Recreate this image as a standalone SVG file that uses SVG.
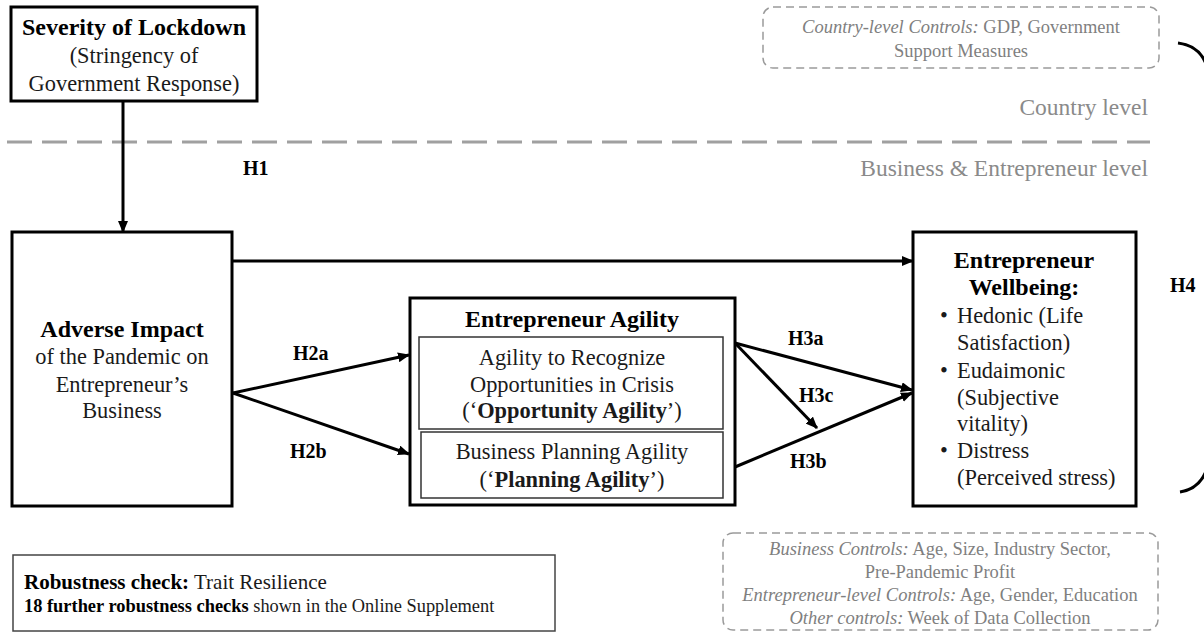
<svg xmlns="http://www.w3.org/2000/svg" width="1204" height="633" viewBox="0 0 1204 633">
<defs>
<style>
text{font-family:"Liberation Serif","Times New Roman",serif;fill:#1a1a1a}
.t{font-size:24px;font-weight:bold;text-anchor:middle;fill:#000}
.r{font-size:22.4px;text-anchor:middle}
.rl{font-size:22.4px}
.h{font-size:20px;font-weight:bold;fill:#000}
.lvl{font-size:23.5px;fill:#8a8a8a;text-anchor:end}
.ctl{font-size:18.5px;fill:#7f7f7f;text-anchor:middle}
.box{fill:#fff;stroke:#000;stroke-width:3}
.inner{fill:none;stroke:#333;stroke-width:1.5}
.dbox{fill:none;stroke:#9a9a9a;stroke-width:1.5;stroke-dasharray:8 5}
.con{fill:none;stroke:#000;stroke-width:3}
</style>
<marker id="ah" markerUnits="userSpaceOnUse" markerWidth="12" markerHeight="10" refX="11" refY="5" orient="auto">
<path d="M0,0 L12,5 L0,10 z" fill="#000"/>
</marker>
</defs>
<rect width="1204" height="633" fill="#fff"/>

<g id="levels">
<line x1="7" y1="142" x2="1150" y2="142" stroke="#a0a0a0" stroke-width="3" stroke-dasharray="25 10"/>
<text class="lvl" x="1148" y="115">Country level</text>
<text class="lvl" x="1148" y="176">Business &amp; Entrepreneur level</text>
</g>

<g id="country-controls">
<rect class="dbox" x="763" y="7" width="396" height="61" rx="10"/>
<text class="ctl" x="961" y="33"><tspan font-style="italic">Country-level Controls:</tspan> GDP, Government</text>
<text class="ctl" x="961" y="57">Support Measures</text>
</g>

<g id="severity">
<rect class="box" x="11" y="7" width="246" height="94"/>
<text class="t" x="134" y="35">Severity of Lockdown</text>
<text class="r" x="134" y="63">(Stringency of</text>
<text class="r" x="134" y="91">Government Response)</text>
</g>

<g id="adverse">
<rect class="box" x="12" y="232" width="220" height="274"/>
<text class="t" x="122" y="337">Adverse Impact</text>
<text class="r" x="122" y="364">of the Pandemic on</text>
<text class="r" x="122" y="392">Entrepreneur’s</text>
<text class="r" x="122" y="418">Business</text>
</g>

<g id="agility">
<rect class="box" x="410" y="298" width="325" height="207"/>
<text class="t" x="572" y="327">Entrepreneur Agility</text>
<rect class="inner" x="419" y="337" width="304" height="92"/>
<text class="r" x="572" y="365">Agility to Recognize</text>
<text class="r" x="572" y="392">Opportunities in Crisis</text>
<text class="r" x="572" y="418">(‘<tspan font-weight="bold">Opportunity Agility</tspan>’)</text>
<rect class="inner" x="421" y="432" width="302" height="66"/>
<text class="r" x="572" y="459">Business Planning Agility</text>
<text class="r" x="572" y="487">(‘<tspan font-weight="bold">Planning Agility</tspan>’)</text>
</g>

<g id="wellbeing">
<rect class="box" x="913" y="232" width="223" height="274"/>
<text class="t" x="1024" y="268">Entrepreneur</text>
<text class="t" x="1024" y="295">Wellbeing:</text>
<text class="rl" x="940" y="323">•</text>
<text class="rl" x="957" y="323">Hedonic (Life</text>
<text class="rl" x="957" y="350">Satisfaction)</text>
<text class="rl" x="940" y="378">•</text>
<text class="rl" x="957" y="378">Eudaimonic</text>
<text class="rl" x="957" y="405">(Subjective</text>
<text class="rl" x="957" y="431">vitality)</text>
<text class="rl" x="940" y="458">•</text>
<text class="rl" x="957" y="458">Distress</text>
<text class="rl" x="957" y="485">(Perceived stress)</text>
</g>

<g id="robustness">
<rect x="13" y="555" width="542" height="76" fill="#fff" stroke="#444" stroke-width="1.5"/>
<text x="24" y="589" font-size="21"><tspan font-weight="bold" fill="#000">Robustness check:</tspan> Trait Resilience</text>
<text x="24" y="612" font-size="18.4"><tspan font-weight="bold" fill="#000">18 further robustness checks</tspan> shown in the Online Supplement</text>
</g>

<g id="business-controls">
<rect class="dbox" x="723" y="533" width="435" height="97" rx="10"/>
<text class="ctl" x="940" y="555"><tspan font-style="italic">Business Controls:</tspan> Age, Size, Industry Sector,</text>
<text class="ctl" x="940" y="578">Pre-Pandemic Profit</text>
<text class="ctl" x="940" y="601"><tspan font-style="italic">Entrepreneur-level Controls:</tspan> Age, Gender, Education</text>
<text class="ctl" x="940" y="624"><tspan font-style="italic">Other controls:</tspan> Week of Data Collection</text>
</g>

<g id="connectors">
<line class="con" x1="123" y1="101" x2="123" y2="232" marker-end="url(#ah)"/>
<line class="con" x1="232" y1="261" x2="913" y2="261" marker-end="url(#ah)"/>
<line class="con" x1="233" y1="393" x2="409" y2="355" marker-end="url(#ah)"/>
<line class="con" x1="233" y1="393" x2="409" y2="454" marker-end="url(#ah)"/>
<line class="con" x1="735" y1="343" x2="912" y2="390" marker-end="url(#ah)"/>
<line class="con" x1="735" y1="467" x2="912" y2="393" marker-end="url(#ah)"/>
<line class="con" x1="735" y1="343" x2="817" y2="428" marker-end="url(#ah)"/>
<path class="con" d="M1178,43 Q1206,46 1210,80 L1210,455 Q1206,488 1180,492"/>
<text class="h" x="243" y="175">H1</text>
<text class="h" x="293" y="360">H2a</text>
<text class="h" x="290" y="458">H2b</text>
<text class="h" x="788" y="345">H3a</text>
<text class="h" x="799" y="402">H3c</text>
<text class="h" x="790" y="468">H3b</text>
<text class="h" x="1170" y="292">H4</text>
</g>
</svg>
